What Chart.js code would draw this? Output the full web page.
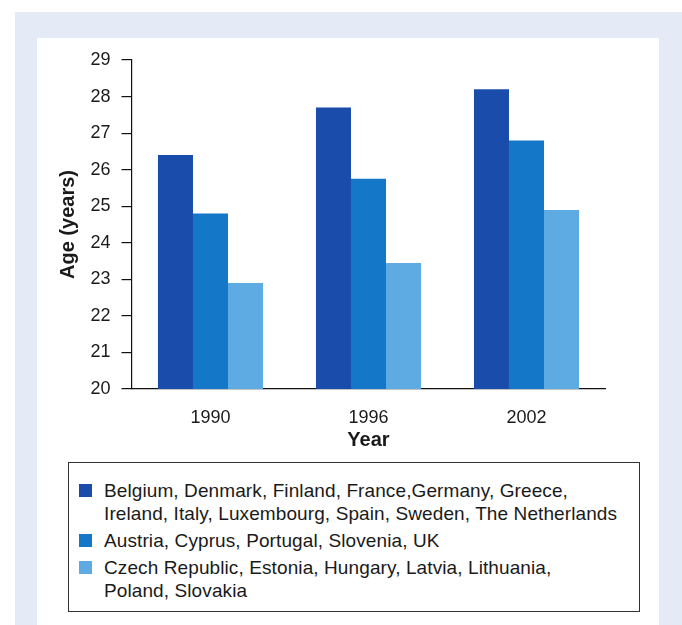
<!DOCTYPE html>
<html>
<head>
<meta charset="utf-8">
<script src="https://cdn.jsdelivr.net/npm/chart.js@4"></script>
<style>
  html, body { margin: 0; padding: 0; background: #fff; }
  body { width: 682px; height: 625px; position: relative; overflow: hidden;
         font-family: "Liberation Sans", Arial, sans-serif; color: #1a1a1a; }
  #frame { position: absolute; left: 15px; top: 12px; width: 667px; height: 613px; background: #e4ebf7; }
  #panel { position: absolute; left: 37px; top: 38px; width: 622px; height: 587px; background: #fff; }
  #chart { position: absolute; left: 37px; top: 38px; }
  #legend { position: absolute; left: 68px; top: 462px; width: 572px; height: 150px;
            box-sizing: border-box; border: 1px solid #333; padding: 15.5px 0 0 10px; }
  .item { position: relative; padding-left: 25px; margin-bottom: 4px; font-size: 19px; line-height: 23px;
          letter-spacing: 0.1px; }
  .item .line { white-space: nowrap; display: block; }
  .item .swatch { position: absolute; left: 0; top: 5px; width: 13px; height: 13px; }
</style>
</head>
<body>
<div id="frame"></div>
<div id="panel"></div>
<canvas id="chart" width="622" height="420"></canvas>
<div id="legend"></div>
<script>
// Categories (survey years)
const years = ['1990', '1996', '2002'];

// Mean age of women at first birth, by country group
const groupWest = [26.4, 27.7, 28.2];
const groupMid = [24.8, 25.75, 26.8];
const groupEast = [22.9, 23.45, 24.9];

// Country group names, one entry per legend line
const labelWest = ['Belgium, Denmark, Finland, France,Germany, Greece,',
                   'Ireland, Italy, Luxembourg, Spain, Sweden, The Netherlands'];
const labelMid = ['Austria, Cyprus, Portugal, Slovenia, UK'];
const labelEast = ['Czech Republic, Estonia, Hungary, Latvia, Lithuania,',
                   'Poland, Slovakia'];

// Value axis range
const yMin = 20;
const yMax = 29;
const yStep = 1;

const colors = ['#1a4cab', '#1477c8', '#5eaae3'];
const FONT = '"Liberation Sans", Arial, sans-serif';
const INK = '#1a1a1a';

const groups = [
  { lines: labelWest, data: groupWest },
  { lines: labelMid, data: groupMid },
  { lines: labelEast, data: groupEast }
];

const chart = new Chart(document.getElementById('chart'), {
  type: 'bar',
  data: {
    labels: years,
    datasets: groups.map((g, i) => ({
      label: g.lines.join(' '),
      data: g.data,
      backgroundColor: colors[i],
      borderWidth: 0,
      categoryPercentage: 0.665,
      barPercentage: 1.0
    }))
  },
  options: {
    responsive: false,
    animation: false,
    layout: { padding: { top: 22, right: 53.5, left: 0, bottom: 0 } },
    plugins: { legend: { display: false }, tooltip: { enabled: false } },
    scales: {
      x: {
        grid: { display: false },
        border: { display: true, color: '#111', width: 1.2 },
        ticks: { color: INK, font: { family: FONT, size: 18 }, padding: 10 },
        title: { display: true, text: 'Year', color: INK,
                 font: { family: FONT, size: 20, weight: 'bold' },
                 padding: { top: 4, bottom: 6 } },
        afterFit(scale) { scale.height = 69; }
      },
      y: {
        min: yMin,
        max: yMax,
        grid: { drawOnChartArea: false, drawTicks: true, tickLength: 10, color: '#111', lineWidth: 1.2 },
        border: { display: true, color: '#111', width: 1.2 },
        ticks: { stepSize: yStep, color: INK, font: { family: FONT, size: 18 }, padding: 11 },
        title: { display: true, text: 'Age (years)', color: INK,
                 font: { family: FONT, size: 20, weight: 'bold' },
                 padding: { top: 19, bottom: 4 } },
        afterFit(scale) { scale.width = 94.5; }
      }
    }
  }
});

// Legend box built from the chart's datasets
const legend = document.getElementById('legend');
chart.data.datasets.forEach((ds, i) => {
  const item = document.createElement('div');
  item.className = 'item';
  const sw = document.createElement('span');
  sw.className = 'swatch';
  sw.style.background = ds.backgroundColor;
  item.appendChild(sw);
  groups[i].lines.forEach(t => {
    const line = document.createElement('span');
    line.className = 'line';
    line.textContent = t;
    item.appendChild(line);
  });
  legend.appendChild(item);
});
</script>
</body>
</html>
